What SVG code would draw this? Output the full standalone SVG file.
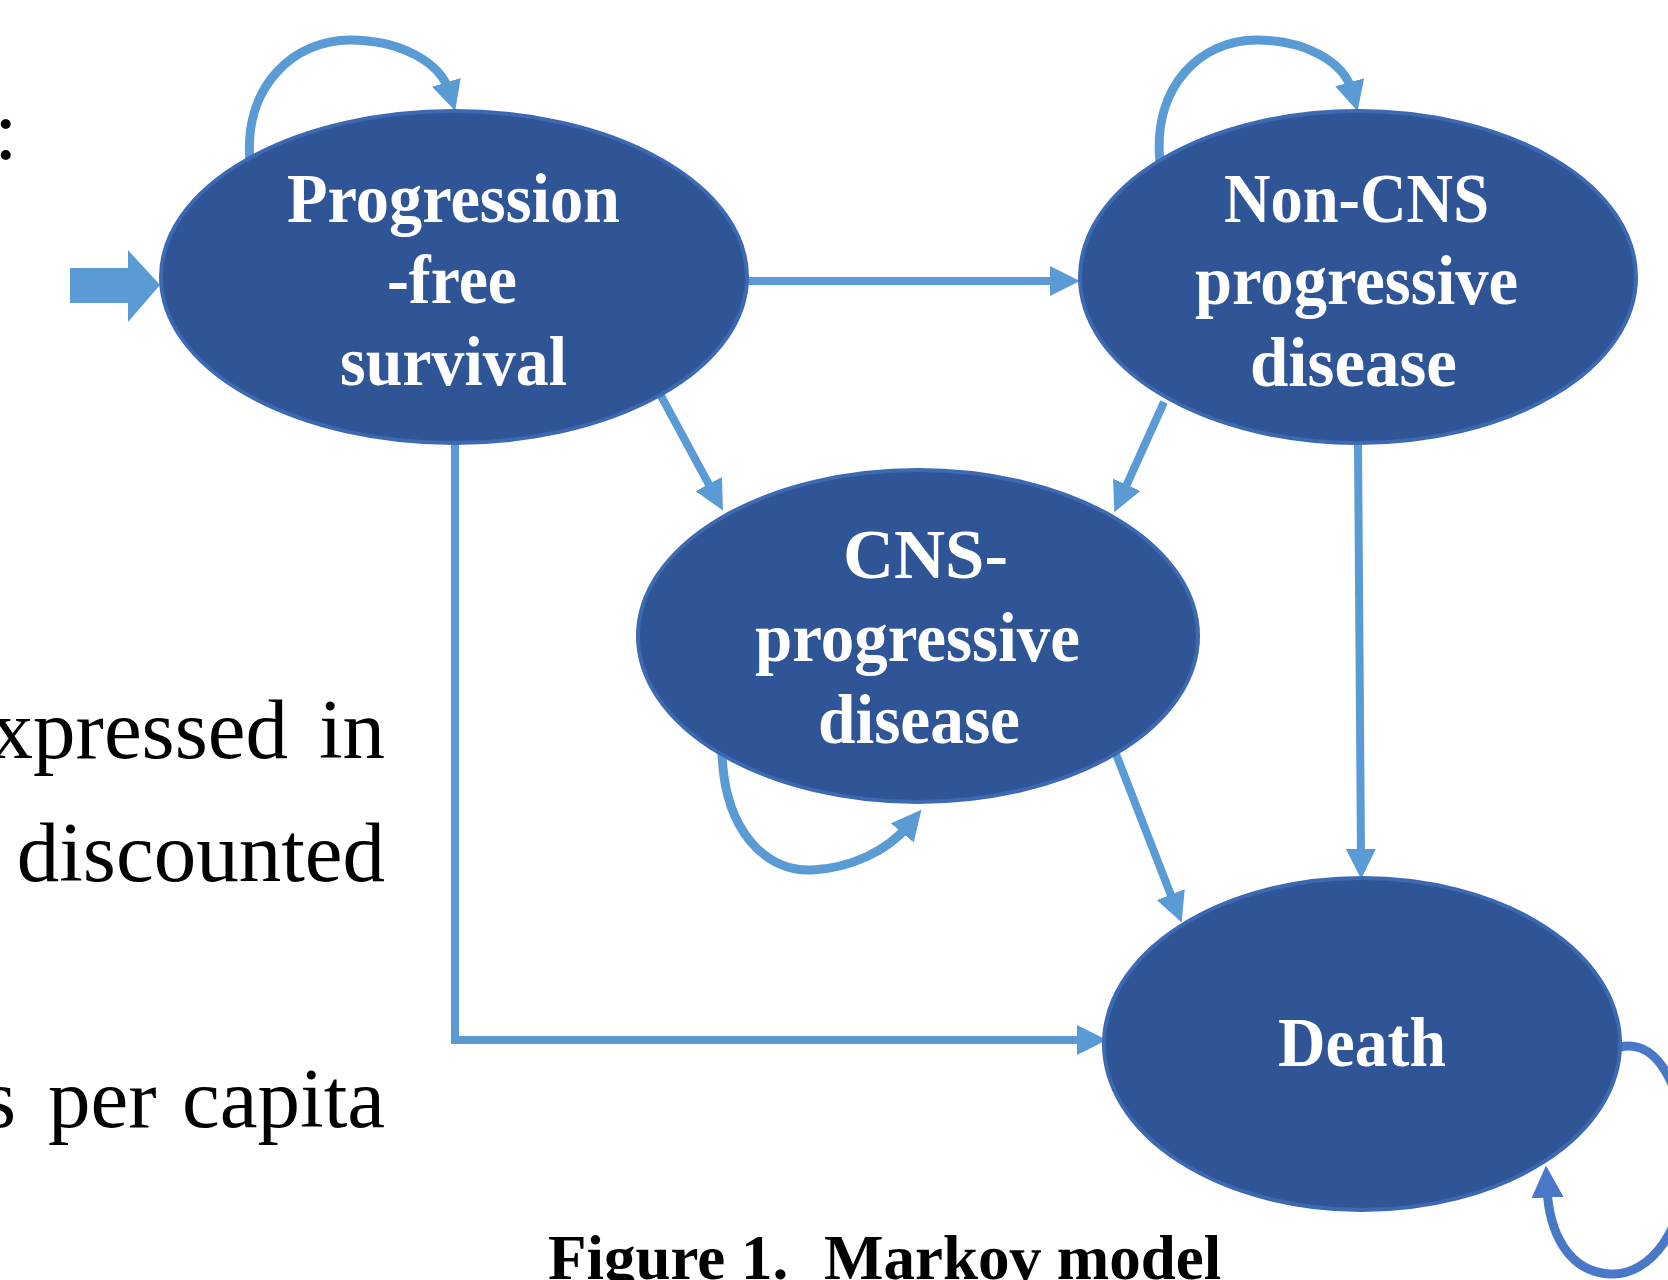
<svg xmlns="http://www.w3.org/2000/svg" width="1668" height="1280" viewBox="0 0 1668 1280">
<style>
.node{fill:#2F5597;stroke:#3D68B2;stroke-width:4}
.lbl{font-family:"Liberation Serif","Times New Roman",serif;font-weight:bold;font-size:70px;fill:#ffffff}
.body{font-family:"Liberation Serif","Times New Roman",serif;font-size:85px;fill:#000000}
.cap{font-family:"Liberation Serif","Times New Roman",serif;font-weight:bold;font-size:63px;fill:#000000}
.conn{fill:none;stroke:#5B9BD5;stroke-width:8}
.loop{fill:none;stroke:#5B9BD5;stroke-width:9}
.conn2{fill:none;stroke:#4A78C8;stroke-width:9}
</style>
<defs>
<marker id="ah" viewBox="0 0 10 10" refX="3" refY="5" markerWidth="30" markerHeight="30" markerUnits="userSpaceOnUse" orient="auto">
<path d="M0,0 L10,5 L0,10 z" fill="#5B9BD5"/>
</marker>
<marker id="ah2" viewBox="0 0 10 10" refX="3" refY="5" markerWidth="32" markerHeight="32" markerUnits="userSpaceOnUse" orient="auto">
<path d="M0,0 L10,5 L0,10 z" fill="#4A78C8"/>
</marker>
</defs>
<rect x="0" y="0" width="1668" height="1280" fill="#ffffff"/>

<g id="body-text">
<text class="body" x="-6" y="159">:</text>
<text class="body" x="288" y="758" text-anchor="end">xpressed</text>
<text class="body" x="385" y="758" text-anchor="end">in</text>
<text class="body" x="385" y="881" text-anchor="end">discounted</text>
<text class="body" x="16" y="1127" text-anchor="end">s</text>
<text class="body" x="48" y="1127">per</text>
<text class="body" x="385" y="1127" text-anchor="end">capita</text>
</g>

<g id="connectors">
<polygon points="70,268 128,268 128,250 160,285 128,322 128,303 70,303" fill="#5B9BD5"/>
<path class="conn" d="M748,281 H1059" marker-end="url(#ah)"/>
<path class="conn" d="M660,394 L713,492" marker-end="url(#ah)"/>
<path class="conn" d="M1164,402 L1123,493" marker-end="url(#ah)"/>
<path class="conn" d="M1358,445 L1361,858" marker-end="url(#ah)"/>
<path class="conn" d="M1116,754 L1174,903" marker-end="url(#ah)"/>
<path class="conn" d="M455,443 V1040 H1086" marker-end="url(#ah)"/>
<path class="loop" d="M250,162 C243,85 295,40 350,40 C400,40 440,62 449,91" marker-end="url(#ah)"/>
<path class="loop" d="M1160,163 C1152,85 1202,40 1256,40 C1306,40 1344,62 1352,91" marker-end="url(#ah)"/>
<path class="loop" d="M722,752 C724,830 765,872 812,870 C852,868 888,850 908,826" marker-end="url(#ah)"/>
<path class="conn2" d="M1620,1047 C1662,1037 1686,1100 1686,1160 C1686,1230 1650,1276 1610,1274 C1568,1272 1549,1232 1547,1188" marker-end="url(#ah2)"/>
</g>

<g id="node-pfs">
<ellipse class="node" cx="454" cy="277" rx="293" ry="166"/>
<text class="lbl" x="287" y="222" textLength="333" lengthAdjust="spacingAndGlyphs">Progression</text>
<text class="lbl" x="387" y="303" textLength="130" lengthAdjust="spacingAndGlyphs">-free</text>
<text class="lbl" x="340" y="385" textLength="227" lengthAdjust="spacingAndGlyphs">survival</text>
</g>

<g id="node-noncns">
<ellipse class="node" cx="1358" cy="277" rx="278" ry="166"/>
<text class="lbl" x="1224" y="222" textLength="265" lengthAdjust="spacingAndGlyphs">Non-CNS</text>
<text class="lbl" x="1195" y="304" textLength="323" lengthAdjust="spacingAndGlyphs">progressive</text>
<text class="lbl" x="1250" y="386" textLength="207" lengthAdjust="spacingAndGlyphs">disease</text>
</g>

<g id="node-cns">
<ellipse class="node" cx="918" cy="636" rx="280" ry="166"/>
<text class="lbl" x="843" y="578" textLength="165" lengthAdjust="spacingAndGlyphs">CNS-</text>
<text class="lbl" x="755" y="661" textLength="325" lengthAdjust="spacingAndGlyphs">progressive</text>
<text class="lbl" x="818" y="743" textLength="202" lengthAdjust="spacingAndGlyphs">disease</text>
</g>

<g id="node-death">
<ellipse class="node" cx="1362" cy="1044" rx="258" ry="166"/>
<text class="lbl" x="1278" y="1066" textLength="168" lengthAdjust="spacingAndGlyphs">Death</text>
</g>

<g id="caption">
<text class="cap" x="548" y="1279">Figure 1.</text>
<text class="cap" x="824" y="1279">Markov model</text>
</g>
</svg>
